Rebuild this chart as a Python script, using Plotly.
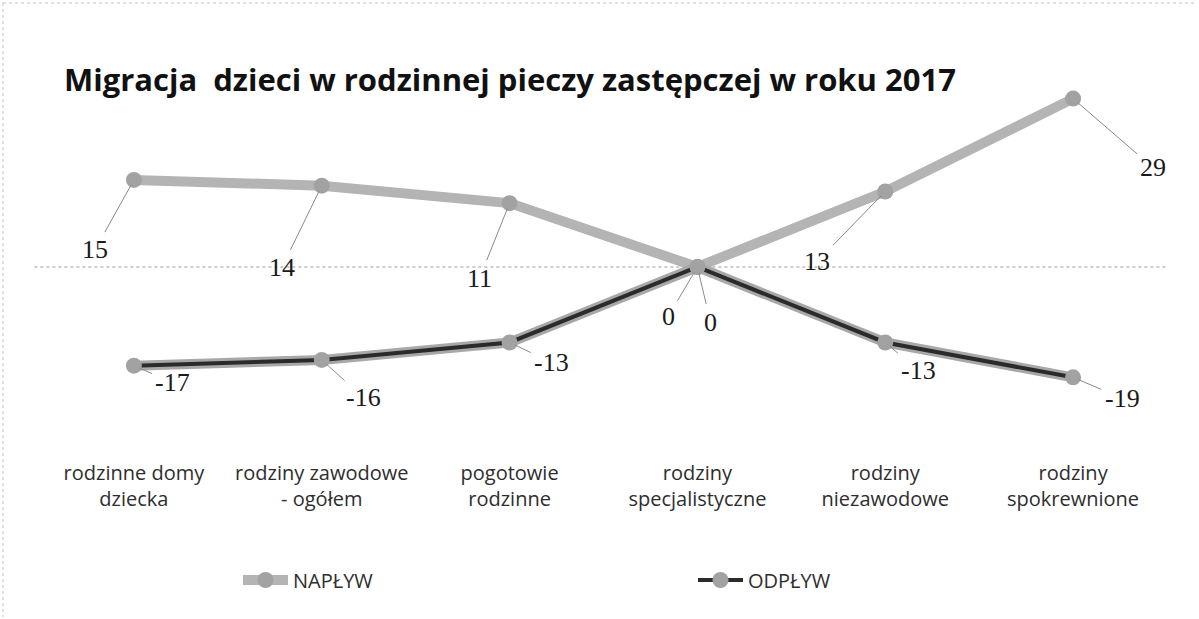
import plotly.graph_objects as go

# Category names (two-line tick labels) and the two series
categories = [
    "rodzinne domy<br>dziecka",
    "rodziny zawodowe<br>- ogółem",
    "pogotowie<br>rodzinne",
    "rodziny<br>specjalistyczne",
    "rodziny<br>niezawodowe",
    "rodziny<br>spokrewnione",
]
naplyw = [15, 14, 11, 0, 13, 29]
odplyw = [-17, -16, -13, 0, -13, -19]

# Pixel offsets of each value label from its point (label placement only)
naplyw_label_offsets = [(-39, 70), (-40, 82), (-30, 75), (-29, 49), (-68, 70), (80, 69)]
odplyw_label_offsets = [(39, 17), (42, 38), (42, 20), (13, 55), (33, 28), (49, 21)]

x_idx = list(range(len(categories)))

LIGHT = "#b4b4b4"
MARK = "#a2a2a2"
DARK = "#2b2b2b"

fig = go.Figure()

fig.add_trace(go.Scatter(
    x=x_idx, y=naplyw, name="NAPŁYW", mode="lines+markers",
    line=dict(color=LIGHT, width=10),
    marker=dict(size=16, color=MARK, symbol="circle"),
    hoverinfo="skip",
))
# soft halo beneath the dark outflow line
fig.add_trace(go.Scatter(
    x=x_idx, y=odplyw, mode="lines", showlegend=False,
    line=dict(color="#a8a8a8", width=10), hoverinfo="skip",
))
fig.add_trace(go.Scatter(
    x=x_idx, y=odplyw, name="ODPŁYW", mode="lines+markers",
    line=dict(color=DARK, width=4),
    marker=dict(size=16, color=MARK, symbol="circle"),
    hoverinfo="skip",
))

label_font = dict(family="Liberation Serif", size=26, color="#1a1a1a")
for series, offsets in ((naplyw, naplyw_label_offsets), (odplyw, odplyw_label_offsets)):
    for xi, v, (ox, oy) in zip(x_idx, series, offsets):
        fig.add_annotation(
            x=xi, y=v, xref="x", yref="y", text=str(v),
            showarrow=True, arrowhead=0, arrowwidth=1, arrowcolor="#8a8a8a",
            ax=ox, ay=oy, standoff=6, startstandoff=2,
            font=label_font,
        )

# dotted zero reference line across the plot
fig.add_shape(type="line", xref="paper", yref="y", x0=-0.005, x1=1.0, y0=0, y1=0,
              line=dict(color="#9a9a9a", width=1, dash="dot"), layer="below")

L, R, T, B = 40, 32, 87, 172
W, H = 1199, 619
pw, ph = W - L - R, H - T - B

def px_to_paper_x(px):
    return (px - L) / pw

def px_to_paper_y(py):
    return (H - B - py) / ph

# faint dotted chart frame (top and left edges)
fig.add_shape(type="line", xref="paper", yref="paper",
              x0=px_to_paper_x(3), x1=px_to_paper_x(1197),
              y0=px_to_paper_y(3), y1=px_to_paper_y(3),
              line=dict(color="#c4c4c4", width=1, dash="dot"))
fig.add_shape(type="line", xref="paper", yref="paper",
              x0=px_to_paper_x(3), x1=px_to_paper_x(3),
              y0=px_to_paper_y(3), y1=px_to_paper_y(617),
              line=dict(color="#c4c4c4", width=1, dash="dot"))

fig.update_layout(
    width=W, height=H,
    margin=dict(l=L, r=R, t=T, b=B),
    paper_bgcolor="white", plot_bgcolor="white",
    title=dict(
        text="<b>Migracja  dzieci w rodzinnej pieczy zastępczej w roku 2017</b>",
        font=dict(family="Open Sans", size=31, color="#111111"),
        xref="container", yref="container",
        x=64 / W, xanchor="left", y=1 - 80 / H, yanchor="middle",
    ),
    xaxis=dict(
        range=[-0.5, 5.5], tickmode="array", tickvals=x_idx, ticktext=categories,
        showgrid=False, zeroline=False, showline=False, ticks="",
        tickfont=dict(family="Open Sans", size=20, color="#2e2e2e"),
        ticklabelstandoff=12,
    ),
    yaxis=dict(
        range=[-31, 31], showgrid=False, zeroline=False, showline=False,
        showticklabels=False, ticks="",
    ),
    legend=dict(
        orientation="h", x=px_to_paper_x(238), xanchor="left",
        y=px_to_paper_y(580), yanchor="middle",
        font=dict(family="Open Sans", size=20, color="#2e2e2e"),
        itemwidth=45, entrywidth=395, entrywidthmode="pixels",
        bgcolor="rgba(0,0,0,0)",
    ),
    showlegend=True,
)

fig.write_html("out.html")
